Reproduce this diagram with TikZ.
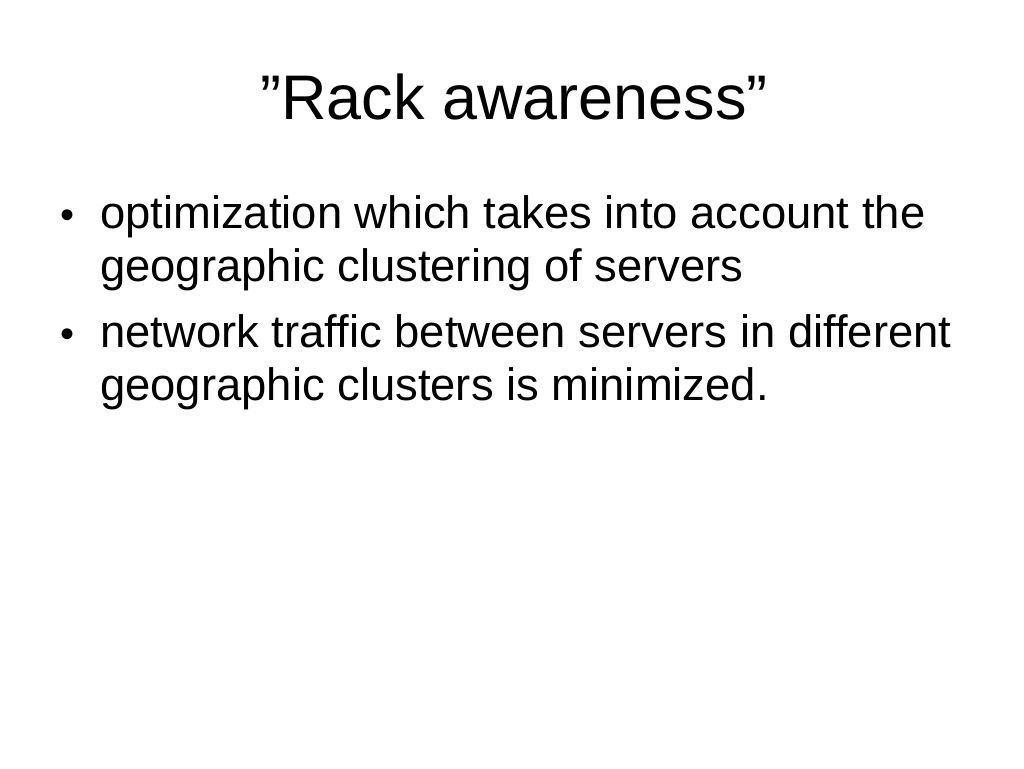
\documentclass[tikz,border=0pt]{standalone}
\usepackage{fontspec}
\setmainfont[Ligatures=NoCommon]{Liberation Sans}
\begin{document}
\begin{tikzpicture}[x=1pt,y=-1pt,
  body/.style={anchor=base west,inner sep=0pt,font=\fontsize{45.4}{52}\selectfont},
  bul/.style={anchor=base west,inner sep=0pt,font=\fontsize{40}{52}\selectfont}]
\useasboundingbox[fill=white] (0,0) rectangle (1024,768);
\node[anchor=base,inner sep=0pt,font=\fontsize{63}{66}\selectfont] (title) at (514,119) {\char"22 Rack awareness\char"22};
\node[bul] (b1) at (60,228) {•};
\node[body] (l1) at (100,228) {optimization which takes into account the};
\node[body] (l2) at (100,281) {geographic clustering of servers};
\node[bul] (b2) at (60,347) {•};
\node[body] (l3) at (100,347) {network traffic between servers in different};
\node[body] (l4) at (100,400) {geographic clusters is minimized.};
\end{tikzpicture}
\end{document}
